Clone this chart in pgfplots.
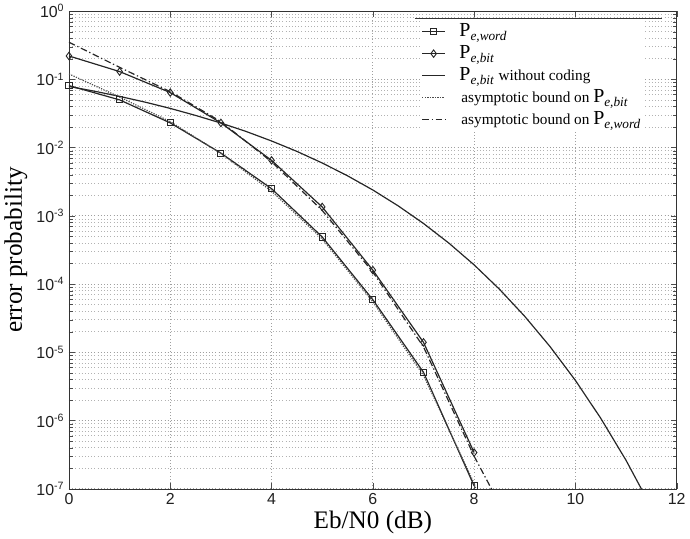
\documentclass[border=0pt]{standalone}
\usepackage{fontspec}
\setmainfont{Liberation Serif}
\setsansfont{Liberation Sans}
\usepackage{pgfplots}
\pgfplotsset{compat=1.18}
\definecolor{ink}{gray}{0.15}
\newcommand{\Pe}[1]{{\fontsize{15}{16}\selectfont P}\textsubscript{\fontsize{10}{11}\selectfont\textit{#1}}}
\begin{document}
\begin{tikzpicture}
\begin{semilogyaxis}[
  scale only axis, width=458pt, height=360pt,
  xmin=0, xmax=12, ymin=1e-7, ymax=1,
  xtick={0,2,4,6,8,10,12}, xticklabels={0,2,4,6,8,10,12},
  ytick={1e-7,1e-6,1e-5,1e-4,1e-3,1e-2,1e-1,1},
  yticklabels={10\textsuperscript{-7},10\textsuperscript{-6},10\textsuperscript{-5},10\textsuperscript{-4},10\textsuperscript{-3},10\textsuperscript{-2},10\textsuperscript{-1},10\textsuperscript{0}},
  tick label style={font=\sffamily\fontsize{12}{13}\selectfont, text=gray!25!black},
  minor x tick num=0,
  grid=both,
  major grid style={dotted, gray!75, line width=0.6pt},
  minor grid style={dotted, gray!60, line width=0.5pt},
  tick style={gray!60!black},
  axis line style={gray!40!black},
  xlabel={Eb/N0 (dB)}, ylabel={error probability},
  label style={font=\fontsize{19}{22}\selectfont},
  xlabel style={yshift=2pt},
  legend cell align=left,
  legend style={at={(rel axis cs:0.945,0.983)}, anchor=north east, draw=none, fill=white,
    font=\fontsize{11.5}{12}\selectfont, row sep=0pt, inner sep=1pt,
    nodes={inner sep=0.5pt, text height=11.5pt, text depth=4pt},
    /tikz/every odd column/.append style={column sep=10pt}},
  legend image code/.code={\draw[mark repeat=2,mark phase=2,#1] plot coordinates {(0cm,0cm) (0.3cm,0cm) (0.6cm,0cm)};},
  every axis plot/.append style={ink, line width=0.9pt},
]
% P_e,word
\addplot[mark=square, mark size=2.3pt, mark options={solid, line width=0.7pt}] coordinates {
 (0,0.081) (1,0.050) (2,0.023) (3,0.0083) (4,0.0025) (5,4.9e-4) (6,5.9e-5) (7,5.1e-6) (8,1.1e-7)};
\addlegendentry{\Pe{e,word}}
% P_e,bit
\addplot[mark=diamond, mark size=2.8pt, mark options={solid, line width=0.7pt}] coordinates {
 (0,0.22) (1,0.13) (2,0.064) (3,0.023) (4,0.0065) (5,0.00135) (6,1.6e-4) (7,1.4e-5) (8,3.4e-7)};
\addlegendentry{\Pe{e,bit}}
% uncoded
\addplot[no marks] coordinates {
 (0,7.86e-2) (0.5,6.71e-2) (1,5.63e-2) (1.5,4.64e-2) (2,3.75e-2) (2.5,2.96e-2) (3,2.29e-2)
 (3.5,1.72e-2) (4,1.25e-2) (4.5,8.80e-3) (5,5.95e-3) (5.5,3.86e-3) (6,2.39e-3) (6.5,1.40e-3)
 (7,7.73e-4) (7.5,3.99e-4) (8,1.91e-4) (8.5,8.40e-5) (9,3.36e-5) (9.5,1.21e-5) (10,3.87e-6)
 (10.5,1.08e-6) (11,2.61e-7) (11.5,5.3e-8)};
\addlegendentry{\Pe{e,bit} without coding}
% asymptotic bound on P_e,bit (dotted)
\addplot[no marks, densely dotted, gray!60!black] coordinates {
 (0,0.12) (1,0.055) (2,0.024) (3,0.0082) (4,0.0023) (5,4.6e-4) (6,5.5e-5) (7,4.6e-6) (8,1.2e-7) (8.1,7e-8)};
\addlegendentry{\hspace{1.5pt}asymptotic bound on \Pe{e,bit}}
% asymptotic bound on P_e,word (dash-dot)
\addplot[no marks, dash pattern=on 5pt off 2pt on 1pt off 2pt] coordinates {
 (0,0.35) (1,0.15) (2,0.066) (3,0.024) (4,0.0062) (5,0.0012) (6,1.5e-4) (7,1.2e-5) (8,3.0e-7) (8.5,6e-8)};
\addlegendentry{\hspace{1.5pt}asymptotic bound on \Pe{e,word}}
\draw[gray!40!black, line width=0.8pt] (rel axis cs:0.57,0.985) -- (rel axis cs:0.975,0.985);
\end{semilogyaxis}
\end{tikzpicture}
\end{document}
